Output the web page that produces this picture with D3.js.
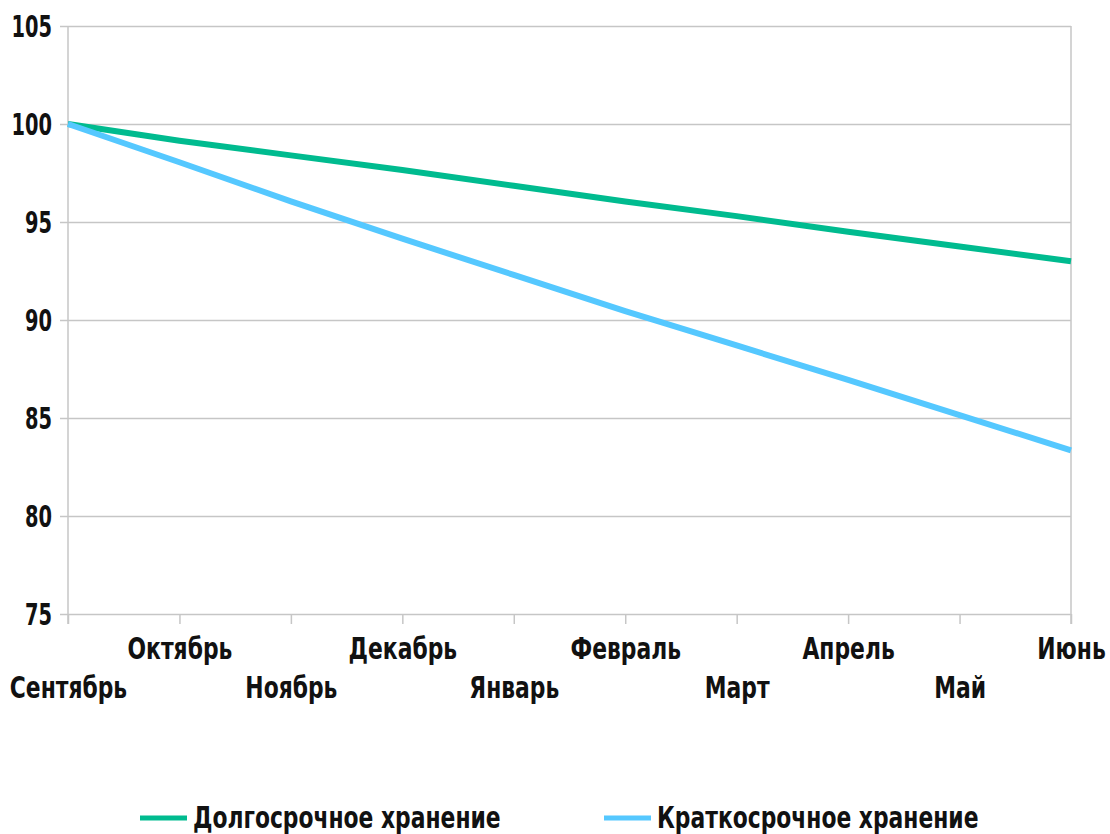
<!DOCTYPE html>
<html>
<head>
<meta charset="utf-8">
<script src="https://cdn.jsdelivr.net/npm/d3@7"></script>
<style>
  body { margin: 0; background: #fff; }
  text { font-family: "DejaVu Sans Condensed", "Liberation Sans Narrow", sans-serif; font-weight: bold; fill: #111; }
</style>
</head>
<body>
<div id="chart"></div>
<script>
// data
var months = ["Сентябрь", "Октябрь", "Ноябрь", "Декабрь", "Январь", "Февраль", "Март", "Апрель", "Май", "Июнь"];
var longTerm = [100, 99.15, 98.4, 97.65, 96.85, 96.05, 95.3, 94.5, 93.75, 93.0];
var shortTerm = [100, 98.05, 96.05, 94.15, 92.3, 90.45, 88.7, 86.95, 85.15, 83.35];
var yTicks = [75, 80, 85, 90, 95, 100, 105];
var seriesNames = ["Долгосрочное хранение", "Краткосрочное хранение"];
var seriesColors = ["#00bb8f", "#55c8ff"];

var margin = {top: 26, right: 39, bottom: 220, left: 68},
    width = 1110 - margin.left - margin.right,
    height = 834 - margin.top - margin.bottom;

var svg = d3.select("#chart")
  .append("svg")
    .attr("width", 1110)
    .attr("height", 834)
  .append("g")
    .attr("transform", "translate(" + margin.left + "," + margin.top + ")");

var x = d3.scalePoint()
    .domain(months)
    .range([0, width]);

var y = d3.scaleLinear()
    .domain([75, 105])
    .range([height, 0]);

// text is narrow in the original: squeeze it horizontally around its anchor
function squeeze(sel, k) {
  sel.each(function() {
    var t = d3.select(this);
    var bx = +t.attr("x") || 0;
    t.attr("transform", "translate(" + bx + ",0) scale(" + k + ",1) translate(" + (-bx) + ",0)");
  });
}

// grid + y axis
var yAxis = svg.append("g")
    .call(d3.axisLeft(y).tickValues(yTicks).tickSize(-width).tickSizeOuter(0).tickPadding(16));
yAxis.select(".domain").remove();
yAxis.selectAll("line").attr("stroke", "#c6c6c6").attr("stroke-width", 1.5).attr("x1", -8);
yAxis.selectAll("text").style("font-size", "30px").attr("dy", "0.34em").call(squeeze, 0.72);

// left and right frame lines
svg.append("line").attr("x1", 0).attr("x2", 0).attr("y1", 0).attr("y2", height + 10)
    .attr("stroke", "#c6c6c6").attr("stroke-width", 1.5);
svg.append("line").attr("x1", width).attr("x2", width).attr("y1", 0).attr("y2", height + 10)
    .attr("stroke", "#c6c6c6").attr("stroke-width", 1.5);

// x axis
var xAxis = svg.append("g")
    .attr("transform", "translate(0," + height + ")")
    .call(d3.axisBottom(x).tickSize(10).tickSizeOuter(0));
xAxis.select(".domain").remove();
xAxis.selectAll("line").attr("stroke", "#c6c6c6").attr("stroke-width", 1.5);
xAxis.selectAll("text")
    .style("font-size", "30px")
    .attr("dy", null)
    .attr("dominant-baseline", "middle")
    .attr("y", function(d, i) { return i % 2 ? 37 : 76; })
    .attr("transform", "scale(0.81,1)")
    .attr("x", 0);

// lines
var line = d3.line()
    .x(function(d, i) { return x(months[i]); })
    .y(function(d) { return y(d); });

[longTerm, shortTerm].forEach(function(s, k) {
  svg.append("path")
    .attr("fill", "none")
    .attr("stroke", seriesColors[k])
    .attr("stroke-width", 6)
    .attr("d", line(s));
});

// legend
var legendX = [72, 536];
seriesNames.forEach(function(name, k) {
  var g = svg.append("g").attr("transform", "translate(" + legendX[k] + "," + (818 - margin.top) + ")");
  g.append("line").attr("x1", 0).attr("x2", 47).attr("stroke", seriesColors[k]).attr("stroke-width", 5);
  g.append("text").attr("x", 53 / 0.81).attr("dominant-baseline", "middle").attr("dy", 2)
    .attr("transform", "scale(0.81,1)")
    .style("font-size", "30px").text(name);
});
</script>
</body>
</html>
